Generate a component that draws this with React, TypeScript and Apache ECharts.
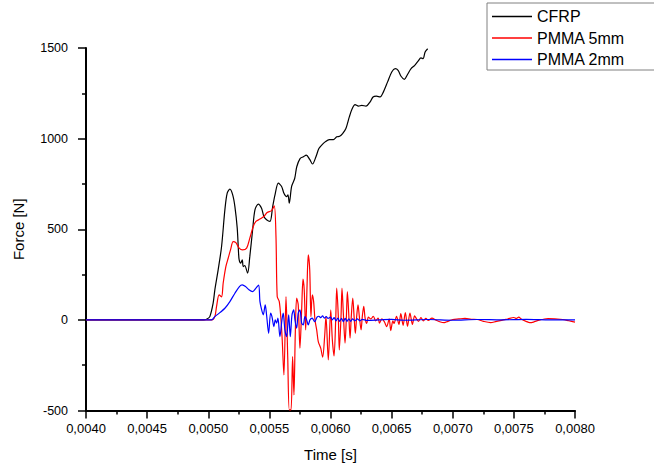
import React, { useEffect, useRef } from "react";
import * as echarts from "echarts";

const xTicks = { min: 0.004, max: 0.008, interval: 0.0005 };
const yTicks = { min: -500, max: 1500, interval: 500 };

const seriesNames = ["CFRP", "PMMA 5mm", "PMMA 2mm"];

const cfrp: [number, number][] = [
  [0.004, 0], [0.00496, 0], [0.00499, 5], [0.005013, 18], [0.00504, 92], [0.005054, 166],
  [0.005081, 276], [0.005109, 405], [0.005136, 607], [0.005155, 699], [0.005177, 721],
  [0.0052, 690], [0.005218, 625], [0.005237, 506], [0.005248, 368], [0.005253, 331],
  [0.005265, 313], [0.005278, 331], [0.005286, 294], [0.005298, 300], [0.005322, 258],
  [0.00534, 350], [0.005363, 497], [0.005382, 607], [0.005409, 639], [0.005436, 616],
  [0.005455, 570], [0.005477, 552], [0.005505, 543], [0.005527, 625], [0.005546, 690],
  [0.005573, 754], [0.0056, 736], [0.005619, 699], [0.005641, 680], [0.005652, 690],
  [0.005663, 644], [0.005682, 736], [0.005707, 780], [0.005724, 845], [0.005751, 890],
  [0.005778, 900], [0.005802, 909], [0.00583, 885], [0.005853, 860], [0.005881, 900],
  [0.005905, 945], [0.005928, 964], [0.005956, 982], [0.00599, 995], [0.006024, 995],
  [0.006051, 1010], [0.006075, 1013], [0.006099, 1028], [0.006126, 1056], [0.006154, 1120],
  [0.006178, 1166], [0.006201, 1188], [0.006229, 1179], [0.006256, 1184], [0.00629, 1179],
  [0.006324, 1203], [0.006348, 1230], [0.006375, 1234], [0.006406, 1230], [0.006433, 1258],
  [0.006467, 1313], [0.006501, 1368], [0.006529, 1386], [0.006553, 1377], [0.006577, 1344],
  [0.006604, 1327], [0.006631, 1355], [0.006659, 1386], [0.006689, 1404], [0.006716, 1427],
  [0.00674, 1445], [0.006757, 1441], [0.006774, 1478], [0.006795, 1496],
];

const pmma5: [number, number][] = [
  [0.004, 0], [0.00503, 0], [0.005054, 18], [0.005068, 74], [0.005089, 138], [0.005109, 127],
  [0.005122, 202], [0.005144, 294], [0.005163, 340], [0.005182, 386], [0.005204, 432],
  [0.005226, 426], [0.005253, 396], [0.00528, 386], [0.005314, 396], [0.00534, 451],
  [0.005368, 515], [0.00539, 543], [0.005423, 556], [0.005455, 570], [0.005482, 592],
  [0.005518, 603], [0.00554, 629], [0.005554, 460], [0.005564, 129], [0.005581, 101],
  [0.005595, 0], [0.005605, -110], [0.005619, -304], [0.005636, 129], [0.00565, -202],
  [0.005663, -497], [0.005677, -497], [0.00569, -202], [0.005701, -414], [0.005712, -74],
  [0.005723, 120], [0.005736, 83], [0.00575, -156], [0.005764, 55], [0.005775, 225],
  [0.005785, 166], [0.005797, -55], [0.005808, 184], [0.005818, 359], [0.00583, 276],
  [0.00584, 18], [0.005851, 138], [0.005862, 101], [0.005873, 0], [0.005887, -55],
  [0.0059, -120], [0.00592, -156], [0.005936, -206], [0.005952, -92], [0.005963, 18],
  [0.005982, -221], [0.006002, 55], [0.006015, -110], [0.006029, -199], [0.006043, 10],
  [0.006051, 175], [0.006064, 18], [0.006072, -166], [0.006086, 18], [0.006094, 175],
  [0.006105, 37], [0.006119, -128], [0.00613, 18], [0.006138, 156], [0.006149, 37],
  [0.00616, -101], [0.00617, 18], [0.006182, 120], [0.006193, 18], [0.006203, -74],
  [0.006214, 18], [0.006225, 83], [0.006236, 18], [0.00625, -55], [0.00626, 18],
  [0.006272, 74], [0.006283, 10], [0.006296, -20], [0.00631, 15], [0.00633, 5],
  [0.00635, 20], [0.00637, -5], [0.00639, 10], [0.0064, -18], [0.00642, 5], [0.00644, -10],
  [0.00646, -37], [0.00648, 5], [0.006493, -59], [0.00651, -5], [0.00652, -20],
  [0.00654, 20], [0.00656, -25], [0.006575, 35], [0.006594, -30], [0.006612, 40],
  [0.00663, -35], [0.00665, 38], [0.00667, -25], [0.006688, 22], [0.0067, 10],
  [0.00672, -8], [0.00674, 12], [0.00676, -5], [0.00678, 8], [0.0068, -3], [0.00683, 10],
  [0.00686, 0], [0.0069, -12], [0.00693, -15], [0.00696, -8], [0.007, 2], [0.00705, 5],
  [0.0071, 8], [0.00715, 3], [0.0072, 2], [0.00725, -8], [0.00731, -15], [0.00735, -10],
  [0.0074, -3], [0.00745, 5], [0.0075, 13], [0.00752, 8], [0.00754, 15], [0.00756, 5],
  [0.0076, -8], [0.00763, -15], [0.00766, -12], [0.0077, -3], [0.00775, 5], [0.00778, 7],
  [0.0079, 2], [0.00795, -5], [0.008, -12],
];

const pmma2: [number, number][] = [
  [0.004, 0], [0.005027, 0], [0.005054, 18], [0.005095, 40], [0.005136, 64], [0.005177, 101],
  [0.005218, 147], [0.005255, 184], [0.005278, 193], [0.005305, 184], [0.005333, 166],
  [0.005363, 156], [0.00539, 175], [0.005412, 192], [0.005423, 101], [0.005437, 55],
  [0.00545, 28], [0.005466, 83], [0.005477, 28], [0.005494, -74], [0.00551, 37],
  [0.005521, 18], [0.005537, -37], [0.005548, 0], [0.005559, -18], [0.00557, 10],
  [0.005586, -92], [0.005603, 0], [0.005613, 37], [0.005627, -55], [0.005641, -92],
  [0.005658, 28], [0.005671, -92], [0.005685, 28], [0.005699, 55], [0.005709, 0],
  [0.005723, -46], [0.005736, 37], [0.00575, 55], [0.005764, -18], [0.005777, -28],
  [0.005791, 18], [0.005805, 0], [0.005818, -28], [0.005832, 0], [0.00585, 10],
  [0.00587, -10], [0.00589, 15], [0.005905, 20], [0.00592, 12], [0.005935, 22],
  [0.00595, 10], [0.005965, 18], [0.00598, 8], [0.006, 15], [0.006015, 0], [0.00603, 12],
  [0.006045, -5], [0.00606, 10], [0.006075, -8], [0.00609, 8], [0.006105, -10],
  [0.00612, 8], [0.006135, -8], [0.00615, 6], [0.006165, -8], [0.00618, 5], [0.0062, -5],
  [0.00622, 5], [0.00624, -5], [0.00626, 3], [0.0063, -3], [0.0064, 0], [0.0065, 3],
  [0.0066, -2], [0.0068, 2], [0.007, -2], [0.0072, 2], [0.0074, 0], [0.0076, 3],
  [0.0078, 0], [0.008, 0],
];

const colors = ["#000000", "#ff0000", "#0000ff"];
const FONT = "'Liberation Sans', Arial, sans-serif";

export default function App() {
  const ref = useRef<HTMLDivElement>(null);
  useEffect(() => {
    if (!ref.current) return;
    const chart = echarts.init(ref.current, null, { renderer: "svg" });
    const axisCommon = {
      axisLine: { show: true, onZero: false, lineStyle: { color: "#000", width: 2 } },
      axisTick: { show: true, inside: false, length: 8, lineStyle: { color: "#000", width: 1.5 } },
      minorTick: { show: true, splitNumber: 2, length: 4, lineStyle: { color: "#000", width: 1.5 } },
      splitLine: { show: false },
      minorSplitLine: { show: false },
    };
    const datasets = [cfrp, pmma5, pmma2];
    chart.setOption({
      animation: false,
      backgroundColor: "#ffffff",
      grid: { left: 86, right: 79, top: 48, bottom: 58.5 },
      legend: {
        orient: "vertical",
        left: 487,
        top: 3,
        icon: "rect",
        itemWidth: 40,
        itemHeight: 1.5,
        itemGap: 0.5,
        padding: [3, 40, 0, 5],
        borderColor: "#808080",
        borderWidth: 1,
        textStyle: { fontSize: 16, fontFamily: FONT, color: "#000", lineHeight: 21 },
        data: seriesNames,
      },
      xAxis: {
        type: "value",
        min: xTicks.min,
        max: xTicks.max,
        interval: xTicks.interval,
        name: "Time [s]",
        nameLocation: "middle",
        nameGap: 36,
        nameTextStyle: { fontSize: 15, fontFamily: FONT, color: "#000" },
        axisLabel: {
          fontSize: 13,
          fontFamily: FONT,
          color: "#000",
          margin: 11,
          formatter: (v: number) => v.toFixed(4).replace(".", ","),
        },
        ...axisCommon,
      },
      yAxis: {
        type: "value",
        min: yTicks.min,
        max: yTicks.max,
        interval: yTicks.interval,
        name: "Force [N]",
        nameLocation: "middle",
        nameGap: 60,
        nameTextStyle: { fontSize: 15, fontFamily: FONT, color: "#000" },
        axisLabel: {
          fontSize: 12.5,
          fontFamily: FONT,
          color: "#000",
          margin: 18,
          formatter: (v: number) => String(Math.round(v)),
        },
        ...axisCommon,
      },
      series: seriesNames.map((name, i) => ({
        name,
        type: "line",
        data: datasets[i],
        symbol: "none",
        showSymbol: false,
        smooth: 0.3,
        clip: true,
        lineStyle: { color: colors[i], width: 1.2 },
        itemStyle: { color: colors[i] },
      })),
    });
    return () => chart.dispose();
  }, []);
  return (
    <div
      ref={ref}
      style={{ position: "absolute", left: 0, top: 0, width: 654, height: 469 }}
    />
  );
}
